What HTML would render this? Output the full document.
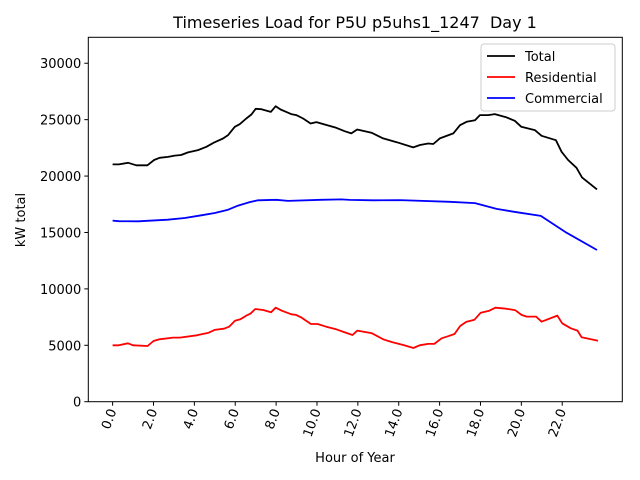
<!DOCTYPE html>
<html><head><meta charset="utf-8"><style>
body{margin:0;background:#fff;}
svg{display:block;font-family:"DejaVu Sans","Liberation Sans",sans-serif;}
</style></head><body>
<svg id="chart" width="640" height="480" viewBox="0 0 640 480" xmlns="http://www.w3.org/2000/svg">
<rect x="0" y="0" width="640" height="480" fill="#fff"/>
<text x="355" y="28" font-size="16" text-anchor="middle" style="white-space:pre">Timeseries Load for P5U p5uhs1_1247&#160; Day 1</text>
<g id="plot"></g>
<text x="355" y="462" font-size="13" text-anchor="middle">Hour of Year</text>
<text x="0" y="0" font-size="13" text-anchor="middle" transform="translate(25,220) rotate(-90)">kW total</text>
<rect x="88.3" y="37.3" width="534" height="364.4" fill="none" stroke="#000" stroke-width="1"/>
<g>
<rect x="481" y="44" width="134" height="67" rx="3" fill="#fff" fill-opacity="0.8" stroke="#ccc"/>
<line x1="487" y1="56" x2="515" y2="56" stroke="#000" stroke-width="1.8"/>
<text x="525" y="61" font-size="13">Total</text>
<line x1="487" y1="77" x2="515" y2="77" stroke="#f00" stroke-width="1.8"/>
<text x="525" y="82" font-size="13">Residential</text>
<line x1="487" y1="98" x2="515" y2="98" stroke="#00f" stroke-width="1.8"/>
<text x="525" y="103" font-size="13">Commercial</text>
</g>
</svg>
<script>
const xTicks=[0,2,4,6,8,10,12,14,16,18,20,22];
const xTickLabels=["0.0","2.0","4.0","6.0","8.0","10.0","12.0","14.0","16.0","18.0","20.0","22.0"];
const yTicks=[0,5000,10000,15000,20000,25000,30000];
const yTickLabels=["0","5000","10000","15000","20000","25000","30000"];
const totalHours=[0,0.3,0.76,1.16,1.7,2.03,2.3,2.71,3.04,3.35,3.69,4.18,4.59,4.96,5.4,5.65,5.98,6.22,6.54,6.79,7.0,7.28,7.74,7.98,8.22,8.5,8.74,8.99,9.32,9.69,9.97,10.38,10.94,11.35,11.68,11.97,12.67,13.24,13.9,14.71,15.04,15.44,15.69,16.01,16.67,17.0,17.32,17.73,17.97,18.38,18.7,19.28,19.68,20.0,20.66,20.99,21.69,21.97,22.29,22.7,22.97,23.7];
const totalValues=[21030,21030,21180,20950,20950,21420,21620,21700,21810,21870,22100,22300,22590,22970,23330,23630,24370,24600,25100,25460,25960,25930,25690,26190,25900,25690,25490,25400,25100,24660,24780,24570,24280,23980,23780,24130,23840,23340,23000,22540,22750,22890,22840,23340,23780,24510,24810,24950,25400,25400,25490,25200,24900,24370,24070,23570,23180,22150,21420,20730,19880,18820];
const resHours=[0,0.3,0.75,1.0,1.71,2.0,2.29,2.96,3.29,4.12,4.7,4.99,5.45,5.7,5.99,6.25,6.54,6.74,6.98,7.37,7.75,7.98,8.28,8.75,8.98,9.25,9.7,10.03,10.45,10.94,11.31,11.74,11.98,12.69,13.24,13.65,14.27,14.72,15.02,15.43,15.74,16.1,16.4,16.73,17.01,17.3,17.71,18.01,18.43,18.73,19.26,19.71,20.01,20.26,20.72,20.99,21.76,22.0,22.42,22.75,22.95,23.75];
const resValues=[5000,5000,5180,5000,4940,5380,5530,5680,5680,5890,6120,6360,6470,6650,7180,7300,7630,7800,8220,8130,7920,8330,8070,7750,7690,7450,6890,6890,6650,6420,6180,5910,6300,6060,5530,5290,5000,4760,5000,5120,5120,5620,5800,6000,6710,7070,7270,7890,8070,8330,8240,8100,7690,7540,7540,7090,7630,6950,6510,6300,5710,5410];
const comHours=[0,0.3,1.25,2.7,3.53,4.34,5.0,5.65,6.14,6.71,7.11,8.01,8.58,10.2,11.19,11.6,12.75,14.06,16.5,17.73,18.79,19.77,20.95,22.21,23.7];
const comValues=[16050,16000,15990,16130,16280,16520,16730,17020,17380,17690,17850,17900,17800,17900,17930,17890,17850,17870,17720,17600,17090,16800,16470,14980,13450];
const NS="http://www.w3.org/2000/svg";
const X0=88.3,X1=622.3,Y0=401.7,Y1=37.3,XMIN=-1.19,XMAX=24.94,YMIN=0,YMAX=32300;
function sx(h){return X0+(h-XMIN)/(XMAX-XMIN)*(X1-X0);}
function sy(v){return Y0-(v-YMIN)/(YMAX-YMIN)*(Y0-Y1);}
const plot=document.getElementById('plot');
function mk(t,a){const e=document.createElementNS(NS,t);for(const k in a)e.setAttribute(k,a[k]);return e;}
xTicks.forEach((t,i)=>{
  const x=sx(t);
  const ln=mk('line',{x1:x,y1:Y0,x2:x,y2:Y0+4,stroke:'#000'});
  
  
  plot.appendChild(ln);
  const tx=mk('text',{x:0,y:0,'font-size':13,'text-anchor':'end',transform:`translate(${x+4},${Y0+9}) rotate(-70)`});
  
  
  tx.textContent=xTickLabels[i];
  plot.appendChild(tx);
});
yTicks.forEach((t,i)=>{
  const y=sy(t);
  const ln=mk('line',{x1:X0-4,y1:y,x2:X0,y2:y,stroke:'#000'});
  
  
  plot.appendChild(ln);
  const tx=mk('text',{x:X0-7,y:y+5,'font-size':13,'text-anchor':'end'});
  
  
  tx.textContent=yTickLabels[i];
  plot.appendChild(tx);
});
function series(hs,vs,color,name){
  const d=hs.map((h,i)=>(i?'L':'M')+sx(h).toFixed(1)+' '+sy(vs[i]).toFixed(1)).join(' ');
  const p=mk('path',{d:d,fill:'none',stroke:color,'stroke-width':1.8,'stroke-linejoin':'round'});
  
  
  plot.appendChild(p);
}
series(totalHours,totalValues,'#000','total-line');
series(resHours,resValues,'#f00','residential-line');
series(comHours,comValues,'#00f','commercial-line');
</script>
</body></html>
